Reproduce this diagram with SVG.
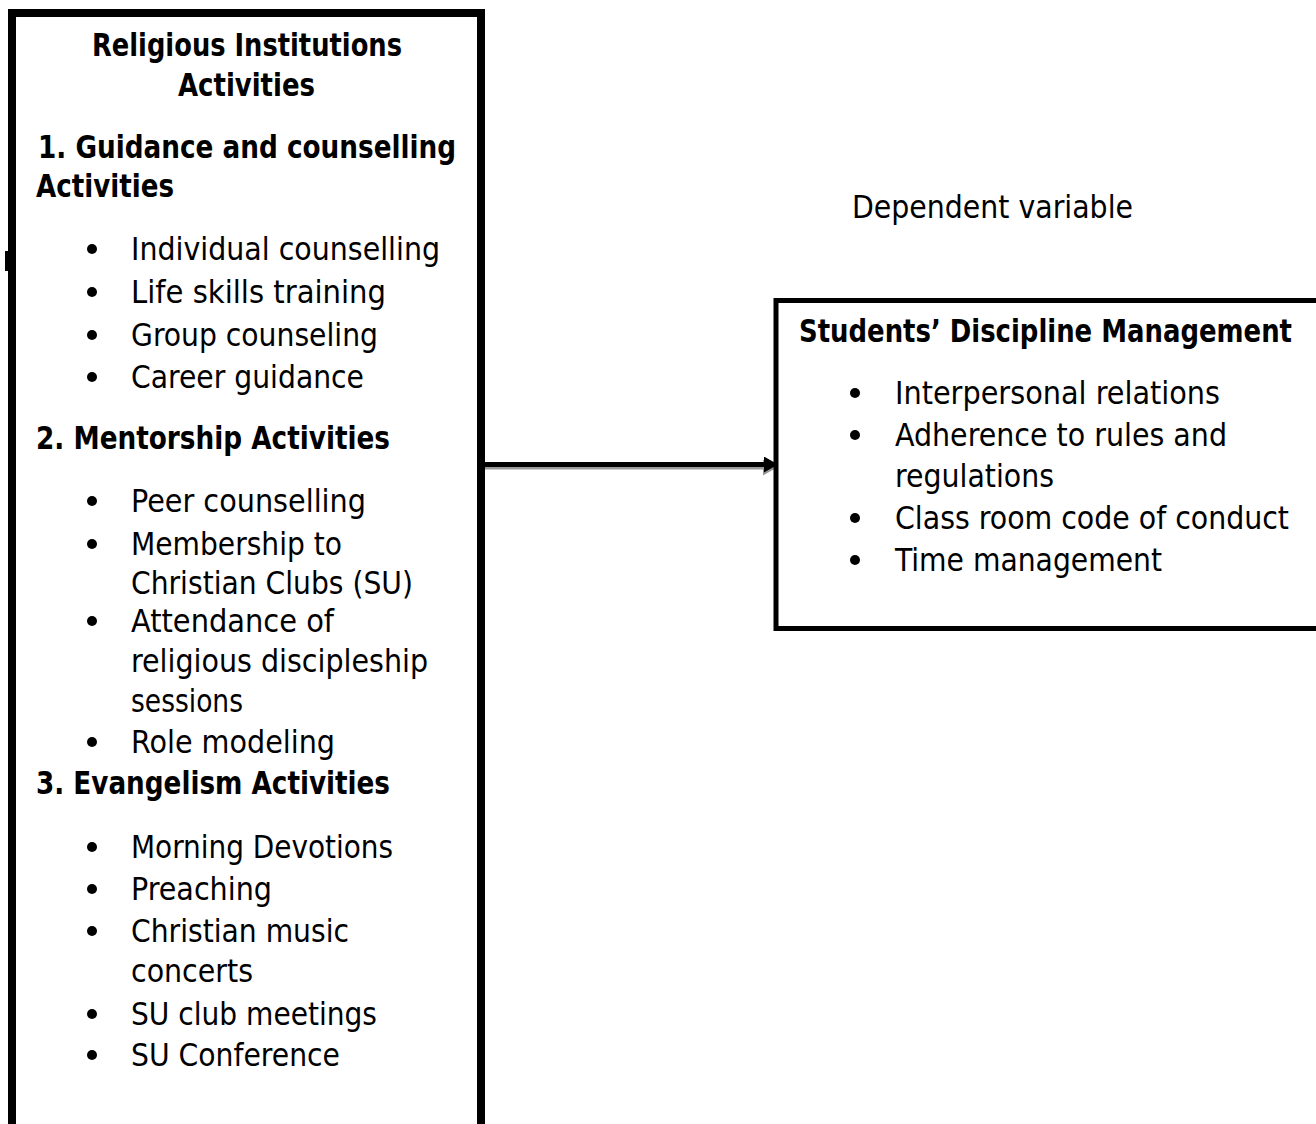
<svg xmlns="http://www.w3.org/2000/svg" width="1316" height="1124" viewBox="0 0 1316 1124">
<style>
text{font-family:"DejaVu Sans Condensed","DejaVu Sans",sans-serif;font-stretch:condensed;font-size:32px;fill:#000}
.b{font-weight:bold}
.box{fill:#fff;stroke:#000}
.dot{fill:#000}
</style>
<defs>
<marker id="ah" markerWidth="14" markerHeight="16" refX="14" refY="8" markerUnits="userSpaceOnUse" orient="auto"><path d="M0,0 L14,8 L0,16 Z" fill="#000"/></marker>
<marker id="ahs" markerWidth="14" markerHeight="16" refX="14" refY="8" markerUnits="userSpaceOnUse" orient="auto"><path d="M0,0 L14,8 L0,16 Z" fill="#999"/></marker>
</defs>
<rect width="1316" height="1124" fill="#fff"/>
<g id="connectors">
<line x1="484" y1="467.5" x2="777" y2="467.5" stroke="#999" stroke-width="4" marker-end="url(#ahs)"/>
<line x1="484" y1="464.5" x2="778" y2="464.5" stroke="#000" stroke-width="5" marker-end="url(#ah)"/>
</g>
<g id="independent">
<rect class="box" x="12" y="13" width="469" height="1140" stroke-width="8"/>
<rect x="5" y="251" width="3" height="20" fill="#000"/>
<text class="b" x="92" y="56" textLength="310" lengthAdjust="spacingAndGlyphs">Religious Institutions</text>
<text class="b" x="178" y="96" textLength="137" lengthAdjust="spacingAndGlyphs">Activities</text>
<text class="b" x="38" y="158" textLength="418" lengthAdjust="spacingAndGlyphs">1. Guidance and counselling</text>
<text class="b" x="36" y="197" textLength="138" lengthAdjust="spacingAndGlyphs">Activities</text>
<circle class="dot" cx="92" cy="249" r="5"/><text x="131" y="260" textLength="309" lengthAdjust="spacingAndGlyphs">Individual counselling</text>
<circle class="dot" cx="92" cy="292" r="5"/><text x="131" y="303" textLength="255" lengthAdjust="spacingAndGlyphs">Life skills training</text>
<circle class="dot" cx="92" cy="335" r="5"/><text x="131" y="346" textLength="247" lengthAdjust="spacingAndGlyphs">Group counseling</text>
<circle class="dot" cx="92" cy="377" r="5"/><text x="131" y="388" textLength="233" lengthAdjust="spacingAndGlyphs">Career guidance</text>
<text class="b" x="36" y="449" textLength="354" lengthAdjust="spacingAndGlyphs">2. Mentorship Activities</text>
<circle class="dot" cx="92" cy="501" r="5"/><text x="131" y="512" textLength="235" lengthAdjust="spacingAndGlyphs">Peer counselling</text>
<circle class="dot" cx="92" cy="544" r="5"/><text x="131" y="555" textLength="211" lengthAdjust="spacingAndGlyphs">Membership to</text>
<text x="131" y="594" textLength="282" lengthAdjust="spacingAndGlyphs">Christian Clubs (SU)</text>
<circle class="dot" cx="92" cy="621" r="5"/><text x="131" y="632" textLength="203" lengthAdjust="spacingAndGlyphs">Attendance of</text>
<text x="131" y="672" textLength="297" lengthAdjust="spacingAndGlyphs">religious discipleship</text>
<text x="131" y="712" textLength="112" lengthAdjust="spacingAndGlyphs">sessions</text>
<circle class="dot" cx="92" cy="742" r="5"/><text x="131" y="753" textLength="204" lengthAdjust="spacingAndGlyphs">Role modeling</text>
<text class="b" x="36" y="794" textLength="354" lengthAdjust="spacingAndGlyphs">3. Evangelism Activities</text>
<circle class="dot" cx="92" cy="847" r="5"/><text x="131" y="858" textLength="262" lengthAdjust="spacingAndGlyphs">Morning Devotions</text>
<circle class="dot" cx="92" cy="889" r="5"/><text x="131" y="900" textLength="141" lengthAdjust="spacingAndGlyphs">Preaching</text>
<circle class="dot" cx="92" cy="931" r="5"/><text x="131" y="942" textLength="218" lengthAdjust="spacingAndGlyphs">Christian music</text>
<text x="131" y="982" textLength="122" lengthAdjust="spacingAndGlyphs">concerts</text>
<circle class="dot" cx="92" cy="1014" r="5"/><text x="131" y="1025" textLength="246" lengthAdjust="spacingAndGlyphs">SU club meetings</text>
<circle class="dot" cx="92" cy="1055" r="5"/><text x="131" y="1066" textLength="209" lengthAdjust="spacingAndGlyphs">SU Conference</text>
</g>
<g id="dependent-label">
<text x="852" y="218" textLength="281" lengthAdjust="spacingAndGlyphs">Dependent variable</text>
</g>
<g id="dependent">
<rect class="box" x="776" y="300.5" width="600" height="328" stroke-width="5"/>
<text class="b" x="799" y="342" textLength="493" lengthAdjust="spacingAndGlyphs">Students’ Discipline Management</text>
<circle class="dot" cx="855" cy="393" r="5"/><text x="895" y="404" textLength="325" lengthAdjust="spacingAndGlyphs">Interpersonal relations</text>
<circle class="dot" cx="855" cy="435" r="5"/><text x="895" y="446" textLength="332" lengthAdjust="spacingAndGlyphs">Adherence to rules and</text>
<text x="895" y="487" textLength="159" lengthAdjust="spacingAndGlyphs">regulations</text>
<circle class="dot" cx="855" cy="518" r="5"/><text x="895" y="529" textLength="394" lengthAdjust="spacingAndGlyphs">Class room code of conduct</text>
<circle class="dot" cx="855" cy="560" r="5"/><text x="895" y="571" textLength="267" lengthAdjust="spacingAndGlyphs">Time management</text>
</g>
</svg>
